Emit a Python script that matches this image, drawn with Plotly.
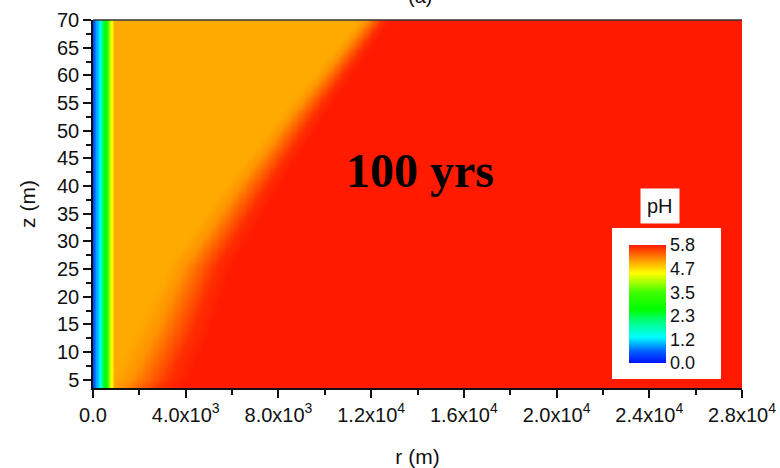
import numpy as np
import plotly.graph_objects as go

# ---- values ----
# pH profile next to the injection well (r in m)
well_r = [0, 150, 300, 450, 600, 750, 850, 900]
well_pH = [0.4, 0.9, 1.3, 2.3, 3.2, 4.2, 4.7, 4.95]

# position of the orange -> red front vs depth
front_z = [3.5, 5, 13.5, 25.4, 38, 53, 70]
front_r = [2030, 2460, 3460, 4620, 6570, 9070, 12150]
front_halfwidth = [1700, 1700, 1600, 1400, 1200, 950, 700]

# pH across the front (offset in half-widths)
front_offset = [-1.0, -0.5, 0.0, 0.5, 1.0]
front_pH = [4.95, 5.08, 5.38, 5.68, 5.8]

r_max = 28000
z_min, z_max = 3.5, 70

cbar_vals = [0.0, 1.16, 2.32, 3.48, 4.64, 5.8]
cbar_text = ["0.0", "1.2", "2.3", "3.5", "4.7", "5.8"]

x_tickvals = [0, 4000, 8000, 12000, 16000, 20000, 24000, 28000]
x_ticktext = ["0.0", "4.0x10<sup>3</sup>", "8.0x10<sup>3</sup>", "1.2x10<sup>4</sup>",
              "1.6x10<sup>4</sup>", "2.0x10<sup>4</sup>", "2.4x10<sup>4</sup>", "2.8x10<sup>4</sup>"]

# ---- build the grid table from the read values ----
r_grid = np.arange(0, r_max + 1, 50.0)
z_grid = np.arange(z_min, z_max + 0.01, 0.5)
R, Z = np.meshgrid(r_grid, z_grid)
fr = np.interp(z_grid, front_z, front_r)[:, None]
fw = np.interp(z_grid, front_z, front_halfwidth)[:, None]
D = (R - fr) / fw
ph_front = np.interp(D, front_offset, front_pH)
ph_well = np.interp(R, well_r, well_pH)
PH = np.where(R < well_r[-1], ph_well, ph_front)

colorscale = [
    [0.0, "#0010ff"], [0.1, "#0060ff"], [0.22, "#00ffff"], [0.38, "#00ff60"],
    [0.45, "#00ff00"], [0.6, "#40ff00"], [0.76, "#ffff00"], [0.853, "#ffaa00"],
    [1.0, "#ff1a00"],
]

W, H = 780, 468
L, T, B, RM = 93, 20, 80, 38
PW, PH_ = W - L - RM, H - T - B


def px(xp):
    return (xp - L) / PW


def py(yp):
    return (H - B - yp) / PH_


fig = go.Figure(go.Heatmap(
    x=r_grid, y=z_grid, z=PH, zmin=0, zmax=5.8, colorscale=colorscale,
    zsmooth="best",
    colorbar=dict(
        x=px(612), xanchor="left", y=py(228), yanchor="top",
        len=152, lenmode="pixels", thickness=37, thicknessmode="pixels",
        bgcolor="rgba(0,0,0,0)", xpad=17, ypad=17, outlinewidth=0,
        tickmode="array", tickvals=cbar_vals, ticktext=cbar_text,
        ticks="", tickfont=dict(family="Liberation Sans, Arial", size=18, color="#111"),
    ),
))

fig.update_layout(
    width=W, height=H,
    margin=dict(l=L, r=RM, t=T, b=B, autoexpand=False),
    paper_bgcolor="white", plot_bgcolor="white",
    font=dict(family="Liberation Sans, Arial", color="#111"),
    xaxis=dict(
        range=[0, r_max], tickmode="array", tickvals=x_tickvals, ticktext=x_ticktext,
        ticks="outside", ticklen=8, tickwidth=1.5, tickcolor="#111",
        showline=True, linecolor="#111", linewidth=1.5, showgrid=False, zeroline=False,
        tickfont=dict(size=20), automargin=False,
        minor=dict(tickmode="linear", tick0=0, dtick=2000, ticks="outside", ticklen=5,
                   tickcolor="#111", tickwidth=1.5),
        title=dict(text="r (m)", font=dict(size=21), standoff=26),
    ),
    yaxis=dict(
        range=[z_min, z_max], tickmode="linear", tick0=5, dtick=5,
        ticks="outside", ticklen=8, tickwidth=1.5, tickcolor="#111",
        showline=True, linecolor="#111", linewidth=1.5, showgrid=False, zeroline=False,
        tickfont=dict(size=20), automargin=False,
        minor=dict(tickmode="linear", tick0=2.5, dtick=2.5, ticks="outside", ticklen=5,
                   tickcolor="#111", tickwidth=1.5),
        title=dict(text="z (m)", font=dict(size=21), standoff=16),
    ),
    shapes=[
        dict(type="line", xref="paper", yref="paper", x0=0, x1=1, y0=1, y1=1,
             line=dict(color="#333", width=1.5)),
        dict(type="rect", xref="paper", yref="paper", x0=px(612), x1=px(721),
             y0=py(379), y1=py(228), fillcolor="white", line=dict(width=0), layer="above"),
    ],
    annotations=[
        dict(text="<b>100 yrs</b>", x=px(420), y=py(170), xref="paper", yref="paper",
             xanchor="center", yanchor="middle",
             showarrow=False, font=dict(family="Liberation Serif, serif", size=48, color="black"),
             ),
        dict(text="pH", x=px(660), y=py(206), xref="paper", yref="paper",
             xanchor="center", yanchor="middle",
             showarrow=False, bgcolor="white", borderpad=6,
             font=dict(family="Liberation Sans, Arial", size=20, color="#111")),
        dict(text="(a)", x=px(420), y=1.03, xref="paper", yref="paper",
             xanchor="center", yanchor="bottom",
             showarrow=False, font=dict(size=20, color="#111")),
    ],
)

fig.write_html("out.html")
